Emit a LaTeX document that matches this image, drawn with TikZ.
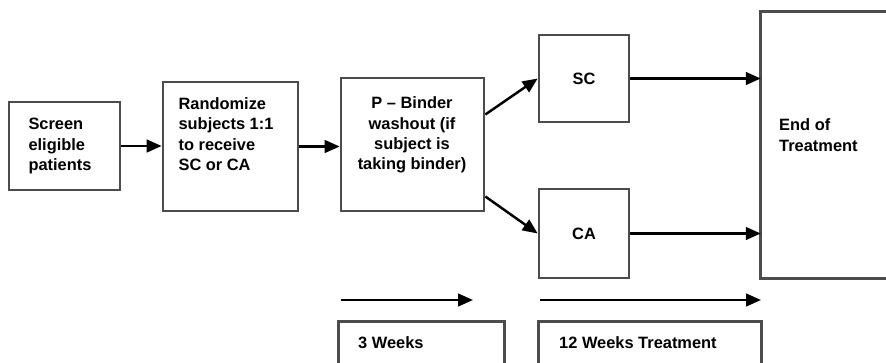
\documentclass[tikz,border=0pt]{standalone}
\usepackage{fontspec}
\setmainfont{Liberation Sans}
\usetikzlibrary{arrows.meta, positioning}
\newcommand{\pxl}{0.03cm}
\tikzset{
  blk/.style={draw=black!70, line width=2.3pt, fill=white, inner sep=0pt},
  side/.style={draw=black!70, line width=2.3pt},
  lbl/.style={font=\bfseries\fontsize{14}{17.4}\selectfont, align=left, inner sep=0pt},
  flow/.style={-{Triangle[length=0.45cm,width=0.38cm]}, line width=2.1pt},
}
\begin{document}
\begin{tikzpicture}[x=0.03cm, y=-0.03cm]
        \useasboundingbox (0,0) rectangle (886,363);
        \clip (0,0) rectangle (886,363);

        % boxes
        \node[blk, minimum width=111*\pxl, minimum height=88*\pxl] (scr) at (64.5,146) {};
        \node[blk, minimum width=135*\pxl, minimum height=129*\pxl] (rand) at (230.5,146.5) {};
        \node[blk, minimum width=143*\pxl, minimum height=133*\pxl] (bind) at (412.5,144.5) {};
        \node[blk, lbl, minimum width=90*\pxl, minimum height=87*\pxl] (sc) at (584,78.5) {SC};
        \node[blk, lbl, minimum width=90*\pxl, minimum height=89*\pxl] (ca) at (584,233.5) {CA};
        % boxes cut by the page edge
        \node[inner sep=0pt, minimum width=135*\pxl, minimum height=266*\pxl] (eot) at (828.5,145) {};
        \node[inner sep=0pt, minimum width=165*\pxl, minimum height=50*\pxl] (wk3) at (421.5,347) {};
        \node[inner sep=0pt, minimum width=222*\pxl, minimum height=50*\pxl] (wk12) at (650,347) {};
        \draw[side] (eot.north east) -- (eot.north west) -- (eot.south west) -- (eot.south east);
        \draw[side] (wk3.south west) -- (wk3.north west) -- (wk3.north east) -- (wk3.south east);
        \draw[side] (wk12.south west) -- (wk12.north west) -- (wk12.north east) -- (wk12.south east);

        % texts
        \node[lbl] (scrtxt) at (60,146) {Screen\\eligible\\patients};
        \node[lbl] (randtxt) at (226,134) {Randomize\\subjects 1:1\\to receive\\SC or CA};
        \node[lbl, align=center] (bindtxt) at (412,135) {P – Binder\\washout (if\\subject is\\taking binder)};
        \node[lbl, anchor=west] (eottxt) at (779,135) {End of\\Treatment};
        \node[lbl, anchor=west] (wk3txt) at (358,343) {3 Weeks};
        \node[lbl, anchor=west] (wk12txt) at (559,343) {12 Weeks Treatment};

        % time arrows
        \coordinate (t1a) at (341,300);
        \coordinate (t1b) at (473,300);
        \coordinate (t2a) at (540,300);
        \coordinate (t2b) at (761,300);

        \draw[flow] (scr.east) -- (scr.east -| rand.west);
        \draw[flow] (rand.east) -- (rand.east -| bind.west);
        \draw[flow] ([yshift=0.9cm]bind.east) -- (sc.west);
        \draw[flow] ([yshift=-1.56cm]bind.east) -- (ca.west);
        \draw[flow] (sc.east) -- (sc.east -| eot.west);
        \draw[flow] (ca.east) -- (ca.east -| eot.west);
        \draw[flow] (t1a) -- (t1b);
        \draw[flow] (t2a) -- (t2b);
\end{tikzpicture}
\end{document}
